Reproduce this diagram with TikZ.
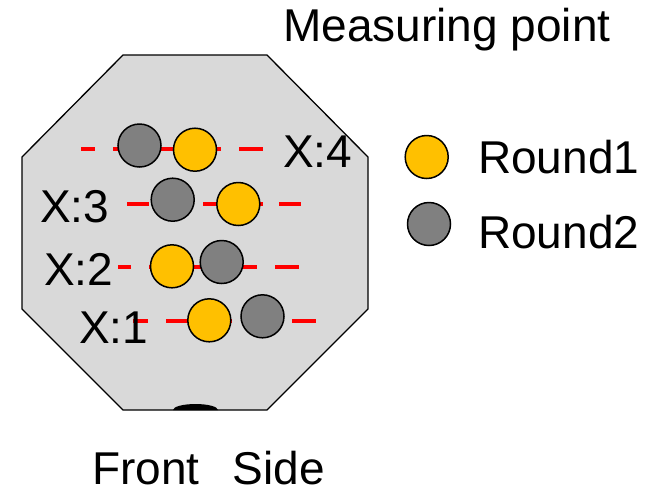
\documentclass[tikz,border=0pt]{standalone}
\usepackage{fontspec}
\setmainfont{Liberation Sans}
\usepackage{tikz}

\definecolor{plate}{HTML}{D9D9D9}
\definecolor{roundA}{HTML}{FFC000}
\definecolor{roundB}{HTML}{808080}

\tikzset{
  ballA/.style={circle, draw=black, line width=1.5pt, fill=roundA, minimum size=43pt, inner sep=0pt},
  ballB/.style={circle, draw=black, line width=1.5pt, fill=roundB, minimum size=43pt, inner sep=0pt},
  track/.style={red, line width=4pt, dash pattern=on 24pt off 18pt, dash phase=10pt},
  lbl/.style={anchor=base west, inner sep=0pt, font=\fontsize{46}{52}\selectfont}
}

\begin{document}
\begin{tikzpicture}[x=1pt,y=-1pt]
\useasboundingbox (0,0) rectangle (658,491);
% plate
\draw[fill=plate, line width=1.3pt] (123,55) -- (267,55) -- (368,157) -- (368,309)
  -- (267,410) -- (123,410) -- (22,309) -- (22,157) -- cycle;
\fill (173,410) arc[start angle=180, end angle=360, x radius=22.5, y radius=6] -- cycle;
%
\draw[track] (81,149) -- (263,149);
\draw[track, dash pattern=on 22pt off 16pt, dash phase=0pt] (127,204) -- (301,204);
\draw[track, dash phase=11pt] (118,267) -- (301,267);
\draw[track, dash phase=9pt] (133,321) -- (317,321);
%
\node[ballB] (b4) at (139.5,145.5) {};
\node[ballA] (a4) at (195,149.7) {};
\node[ballB] (b3) at (172.7,199.7) {};
\node[ballA] (a3) at (238.3,204) {};
\node[ballA] (a2) at (172,266.3) {};
\node[ballB] (b2) at (221.7,262) {};
\node[ballA] (a1) at (209.3,320.3) {};
\node[ballB] (b1) at (262.5,316.3) {};
%
\node[lbl] (x4) at (283,167) {X:4};
\node[lbl] (x3) at (40,222) {X:3};
\node[lbl] (x2) at (44,285) {X:2};
\node[lbl] (x1) at (79,343) {X:1};
%
\node[ballA] (keyA) at (426.7,157) {};
\node[ballB] (keyB) at (429,224) {};
\node[lbl] (txtA) at (478,173) {Round1};
\node[lbl] (txtB) at (478,248) {Round2};
%
\node[lbl] (title) at (283,41) {Measuring point};
\node[lbl] (front) at (92,484) {Front\hspace{33pt}Side};
\end{tikzpicture}
\end{document}
